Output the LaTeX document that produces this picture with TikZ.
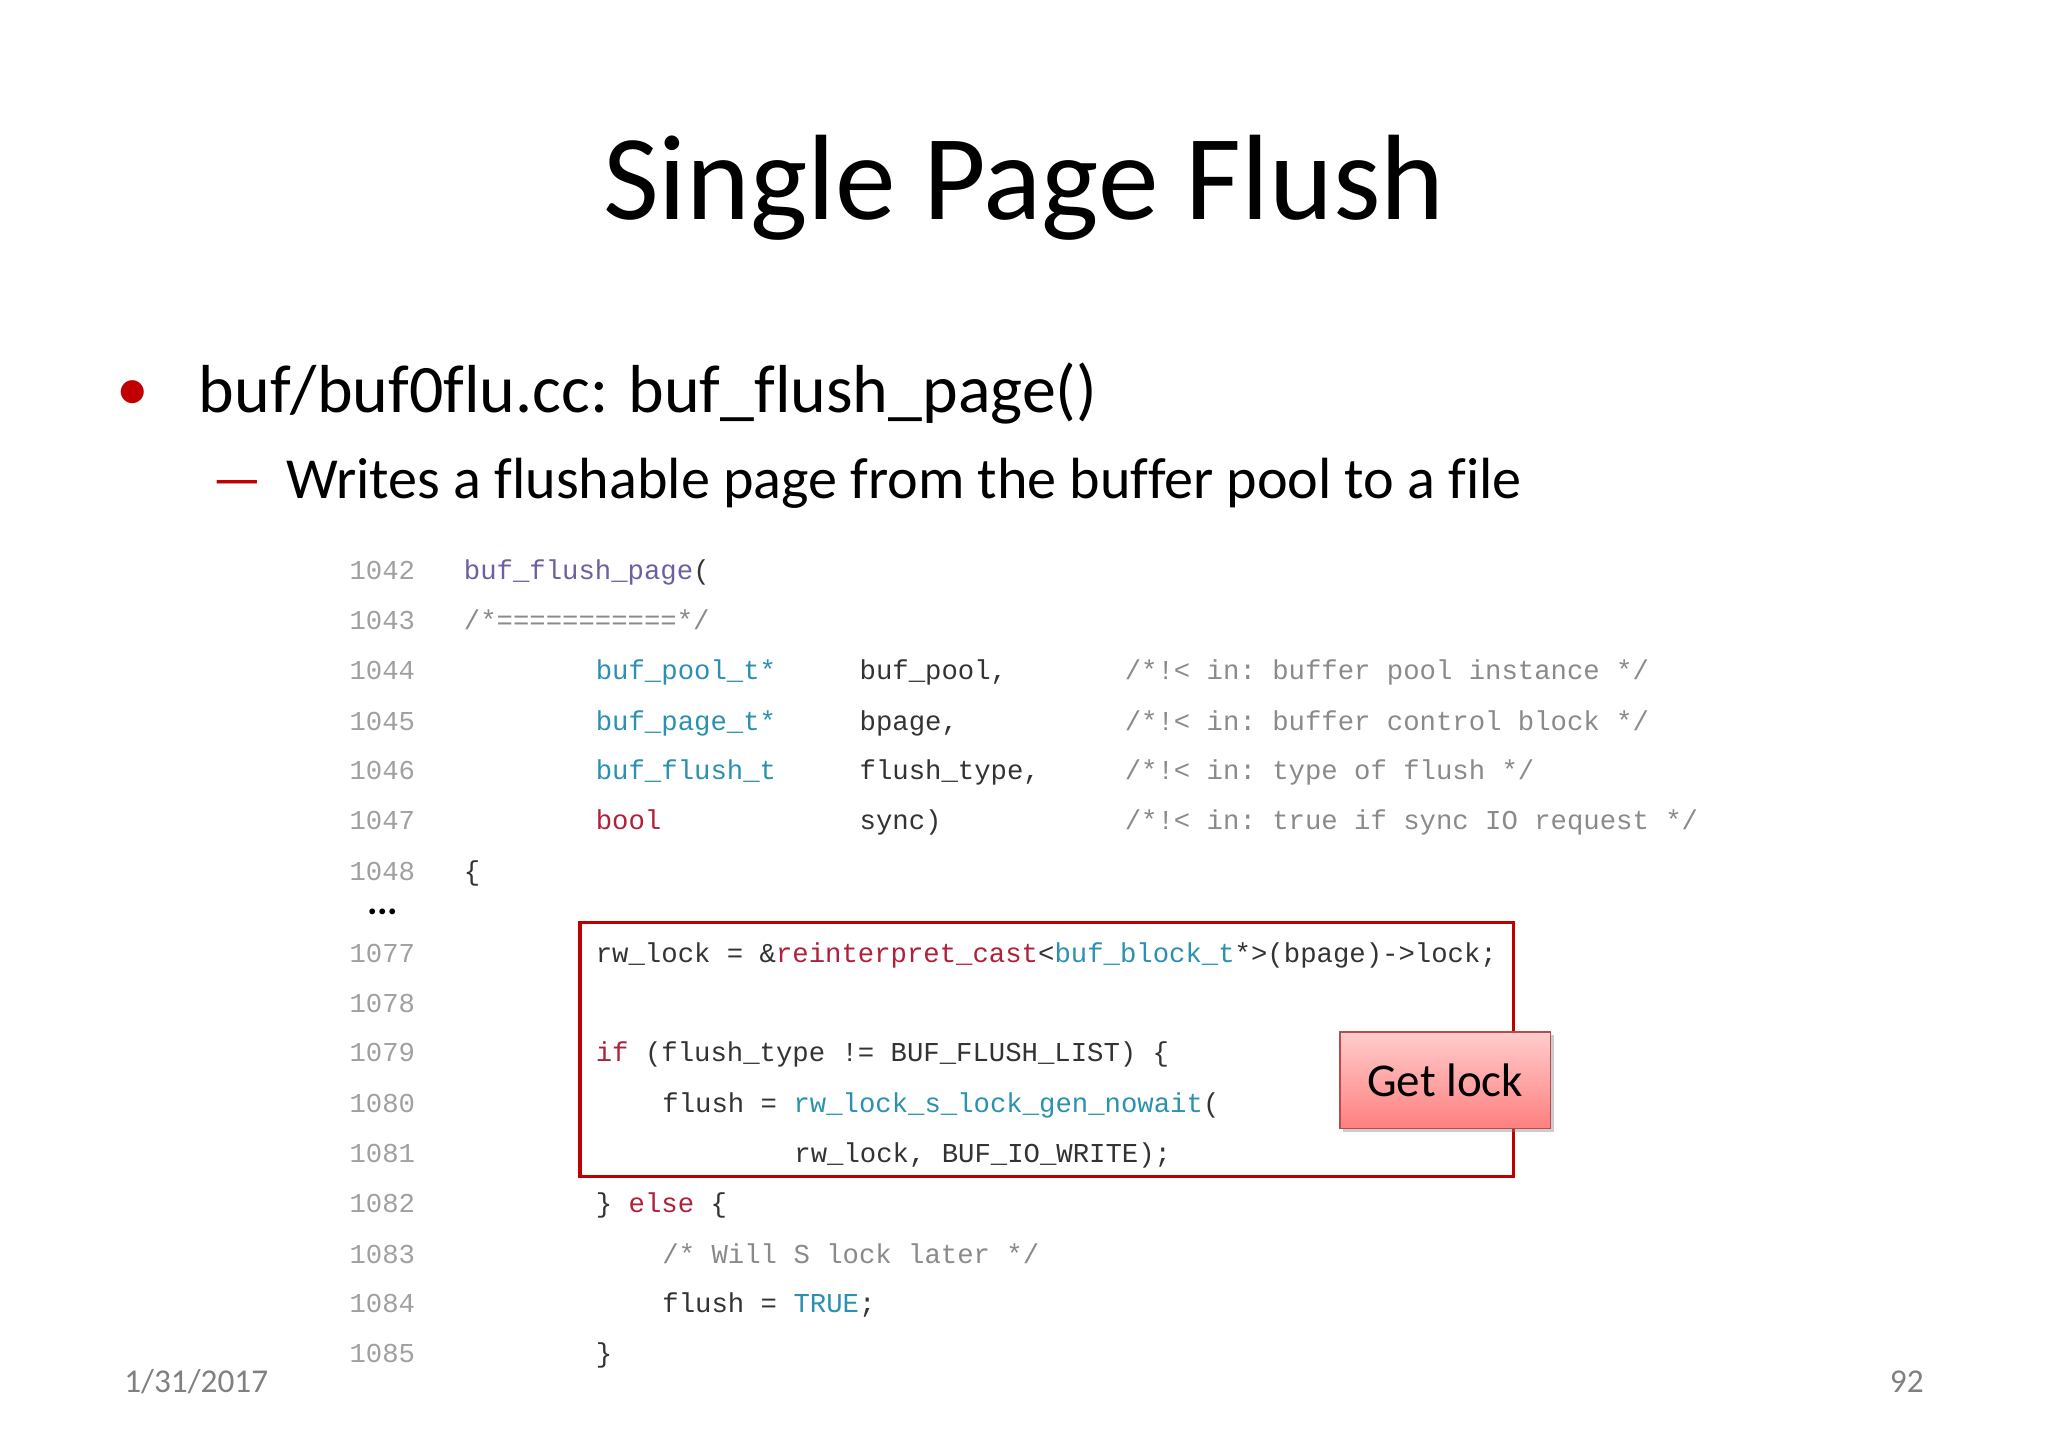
\documentclass[tikz,border=0pt]{standalone}
\usepackage{fontspec}
\setmainfont[Ligatures=NoCommon]{Carlito}
\setmonofont{Liberation Mono}
\usetikzlibrary{shadows}
\definecolor{lnum}{HTML}{A0A0A0}
\definecolor{cmt}{HTML}{8A8A8A}
\definecolor{typ}{HTML}{2B91AF}
\definecolor{fn}{HTML}{6F5FA0}
\definecolor{kw}{HTML}{B0203A}
\definecolor{txt}{HTML}{333333}
\definecolor{boxred}{HTML}{C00000}
\begin{document}
\begin{tikzpicture}[x=1pt,y=-1pt,
  code/.style={anchor=base west,inner sep=0pt,font=\fontsize{20.9}{24}\ttfamily,text=txt},
  ln/.style={anchor=base east,inner sep=0pt,font=\fontsize{20.9}{24}\ttfamily,text=lnum}]
\useasboundingbox (0,0) rectangle (1568,1108);
\node[anchor=base,inner sep=0pt,font=\fontsize{93}{96}\selectfont] (title) at (784,168) {Single Page Flush};
\node[anchor=base,inner sep=0pt,text=boxred,font=\fontsize{50}{50}\selectfont] (b1) at (102,314) {•};
\node[anchor=base west,inner sep=0pt,font=\fontsize{52}{56}\selectfont] (t1) at (152,316) {buf/buf0flu.cc: buf\_flush\_page()};
\node[anchor=base,inner sep=0pt,text=boxred,font=\fontsize{42}{42}\selectfont] (b2) at (182,381) {—};
\node[anchor=base west,inner sep=0pt,font=\fontsize{44.5}{48}\selectfont] (t2) at (219,382) {Writes a flushable page from the buffer pool to a file};
% line numbers
\foreach \n/\y in {1042/437,1043/475,1044/513,1045/552,1046/590,1047/628,1048/667,1077/730,1078/768,1079/806,1080/845,1081/883,1082/921,1083/960,1084/998,1085/1036}
  \node[ln] (l\n) at (318,\y+7) {\n};
\node[anchor=base,inner sep=0pt,font=\fontsize{30}{30}\selectfont\bfseries] (dots) at (293,700) {...};
% code
\node[code] (c1) at (355,444) {\textcolor{fn}{buf\_flush\_page}(};
\node[code,text=cmt] (c2) at (355,482) {/*===========*/};
\node[code,text=typ] (c3a) at (456,520) {buf\_pool\_t*};
\node[code] (c3b) at (658,520) {buf\_pool,};
\node[code,text=cmt] (c3c) at (861,520) {/*!< in: buffer pool instance */};
\node[code,text=typ] (c4a) at (456,559) {buf\_page\_t*};
\node[code] (c4b) at (658,559) {bpage,};
\node[code,text=cmt] (c4c) at (861,559) {/*!< in: buffer control block */};
\node[code,text=typ] (c5a) at (456,597) {buf\_flush\_t};
\node[code] (c5b) at (658,597) {flush\_type,};
\node[code,text=cmt] (c5c) at (861,597) {/*!< in: type of flush */};
\node[code,text=kw] (c6a) at (456,635) {bool};
\node[code] (c6b) at (658,635) {sync)};
\node[code,text=cmt] (c6c) at (861,635) {/*!< in: true if sync IO request */};
\node[code] (c7) at (355,674) {\{};
\node[code] (c8) at (456,737) {rw\_lock = \&\textcolor{kw}{reinterpret\_cast}<\textcolor{typ}{buf\_block\_t}*>(bpage)->lock;};
\node[code] (c9) at (456,813) {\textcolor{kw}{if} (flush\_type != BUF\_FLUSH\_LIST) \{};
\node[code] (c10) at (507,852) {flush = \textcolor{typ}{rw\_lock\_s\_lock\_gen\_nowait}(};
\node[code] (c11) at (608,890) {rw\_lock, BUF\_IO\_WRITE);};
\node[code] (c12) at (456,928) {\} \textcolor{kw}{else} \{};
\node[code,text=cmt] (c13) at (507,967) {/* Will S lock later */};
\node[code] (c14) at (507,1005) {flush = \textcolor{typ}{TRUE};};
\node[code] (c15) at (456,1043) {\}};
% red frame
\draw[boxred,line width=2.5pt] (444,706) rectangle (1159,901);
\node[draw=red!60!black!70,line width=1pt,minimum width=161pt,minimum height=74pt,
  top color=red!20,bottom color=red!50,drop shadow={opacity=0.4},
  font=\fontsize{36}{40}\selectfont] (gl) at (1106.5,827) {Get lock};
% footer
\node[anchor=base west,inner sep=0pt,text=lnum!80!black,font=\fontsize{25.5}{27}\selectfont] (date) at (95,1066) {1/31/2017};
\node[anchor=base east,inner sep=0pt,text=lnum!80!black,font=\fontsize{25.5}{27}\selectfont] (pg) at (1473,1066) {92};
\end{tikzpicture}
\end{document}
